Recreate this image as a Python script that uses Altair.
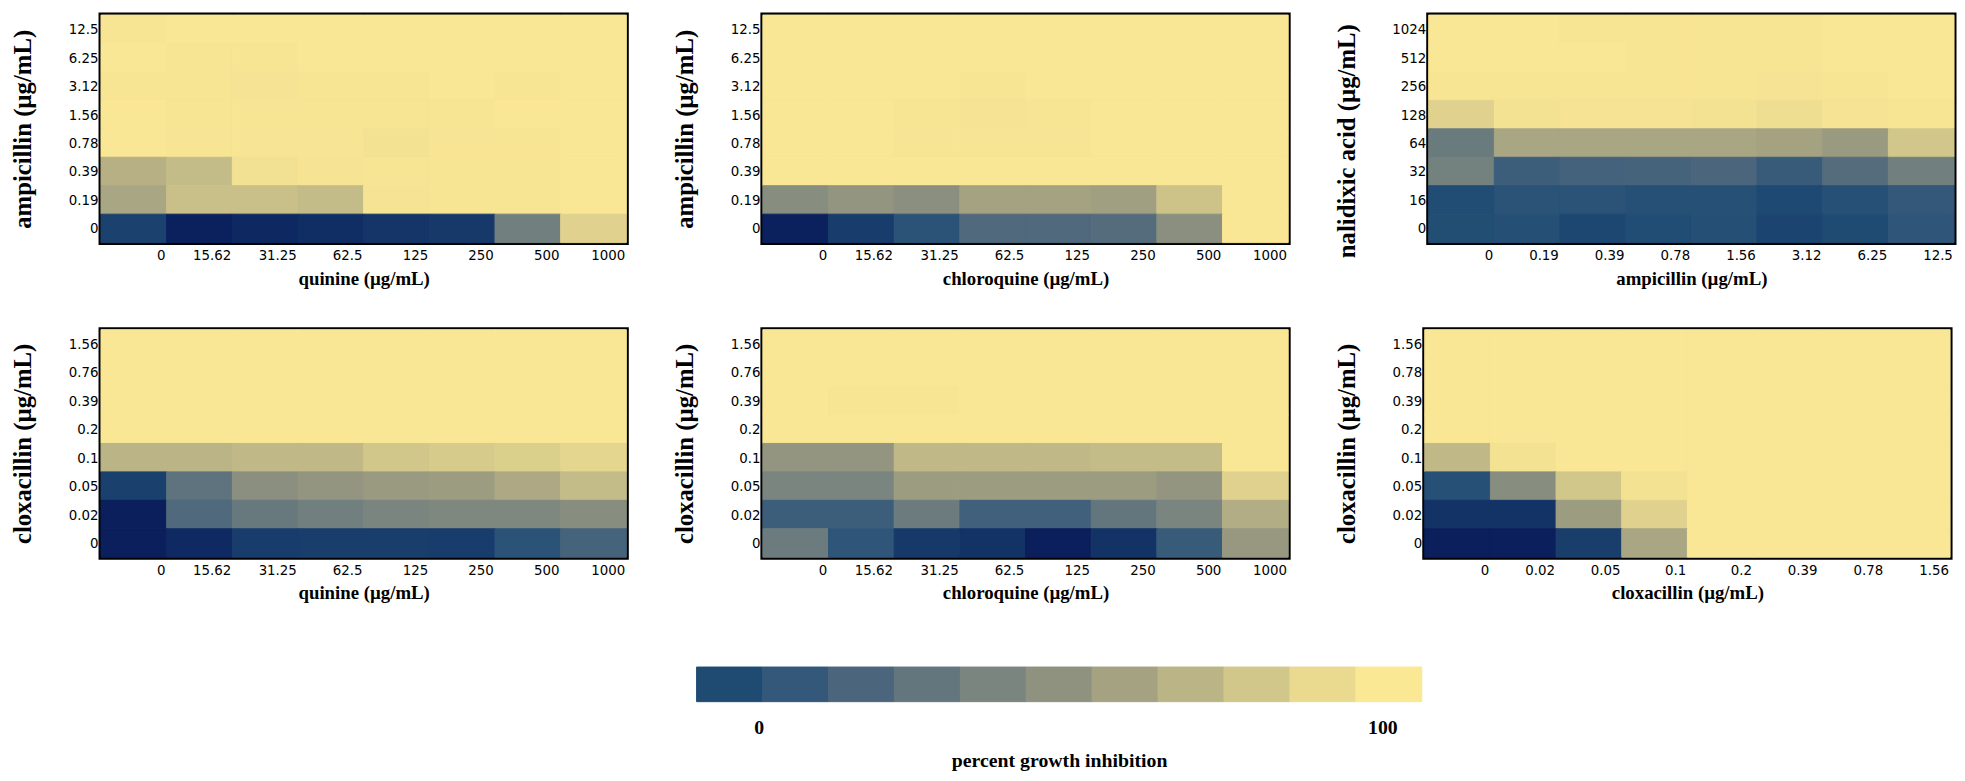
import altair as alt
import pandas as pd

# ---------------- data ----------------
quinine_x = ["0", "15.62", "31.25", "62.5", "125", "250", "500", "1000"]
chloroquine_x = ["0", "15.62", "31.25", "62.5", "125", "250", "500", "1000"]
ampicillin_x = ["0", "0.19", "0.39", "0.78", "1.56", "3.12", "6.25", "12.5"]
cloxacillin_x = ["0", "0.02", "0.05", "0.1", "0.2", "0.39", "0.78", "1.56"]

ampicillin_y = ["12.5", "6.25", "3.12", "1.56", "0.78", "0.39", "0.19", "0"]
nalidixic_y = ["1024", "512", "256", "128", "64", "32", "16", "0"]
cloxacillin_y_a = ["1.56", "0.76", "0.39", "0.2", "0.1", "0.05", "0.02", "0"]
cloxacillin_y_b = ["1.56", "0.78", "0.39", "0.2", "0.1", "0.05", "0.02", "0"]

# percent growth inhibition, rows listed top -> bottom
amp_quinine = [
    [98, 99, 99, 99, 99, 99, 99, 99],
    [99, 98, 98, 99, 99, 99, 99, 99],
    [98, 98, 97, 98, 98, 99, 98, 99],
    [99, 98, 98, 98, 98, 98, 99, 99],
    [99, 98, 98, 98, 96, 98, 98, 99],
    [68, 74, 95, 97, 98, 98, 98, 99],
    [62, 76, 76, 74, 97, 98, 98, 99],
    [-8, -38, -32, -26, -20, -16, 36, 86],
]
amp_chloroquine = [
    [99, 99, 99, 99, 99, 99, 99, 99],
    [99, 99, 99, 99, 99, 99, 99, 99],
    [99, 99, 99, 98, 99, 99, 99, 99],
    [99, 99, 98, 97, 98, 99, 99, 99],
    [99, 99, 98, 98, 98, 99, 99, 99],
    [99, 99, 99, 99, 99, 99, 99, 99],
    [46, 52, 48, 60, 60, 58, 78, 99],
    [-38, -14, 6, 22, 22, 24, 48, 99],
]
nal_ampicillin = [
    [99, 99, 98, 98, 98, 98, 99, 99],
    [99, 99, 99, 98, 98, 98, 99, 99],
    [98, 98, 98, 98, 98, 97, 98, 99],
    [86, 96, 97, 97, 96, 93, 97, 98],
    [33, 62, 62, 62, 62, 60, 55, 80],
    [37, 14, 17, 18, 20, 12, 24, 36],
    [1, 6, 6, 4, 4, -2, 4, 10],
    [2, 3, -4, 1, 3, -6, 0, 8],
]
clox_quinine = [
    [99, 99, 99, 99, 99, 99, 99, 99],
    [99, 99, 99, 99, 99, 99, 99, 99],
    [99, 99, 99, 99, 99, 99, 99, 99],
    [99, 99, 99, 99, 99, 99, 99, 99],
    [70, 70, 72, 72, 80, 82, 84, 88],
    [-10, 28, 48, 52, 55, 56, 64, 74],
    [-40, 22, 32, 36, 40, 42, 42, 46],
    [-40, -30, -14, -12, -12, -14, 6, 18],
]
clox_chloroquine = [
    [99, 99, 99, 99, 99, 99, 99, 99],
    [99, 99, 99, 99, 99, 99, 99, 99],
    [99, 98, 98, 99, 99, 99, 99, 99],
    [99, 99, 99, 99, 99, 99, 99, 99],
    [52, 52, 72, 72, 72, 74, 74, 99],
    [40, 40, 56, 56, 56, 56, 52, 86],
    [14, 14, 34, 16, 16, 30, 40, 66],
    [34, 8, -16, -22, -40, -22, 12, 54],
]
clox_cloxacillin = [
    [99, 99, 99, 99, 99, 99, 99, 99],
    [99, 99, 99, 99, 99, 99, 99, 99],
    [99, 99, 99, 99, 99, 99, 99, 99],
    [99, 99, 99, 99, 99, 99, 99, 99],
    [72, 96, 99, 99, 99, 99, 99, 99],
    [4, 46, 80, 96, 99, 99, 99, 99],
    [-22, -22, 56, 86, 99, 99, 99, 99],
    [-40, -40, -12, 62, 99, 99, 99, 99],
]

legend_bins = [0, 10, 20, 30, 40, 50, 60, 70, 80, 90, 100]

color_domain = [-40, 0, 10, 20, 30, 40, 50, 60, 70, 80, 90, 100]
color_range = ["#0a1f5c", "#1f4b73", "#33587a", "#4b667c", "#63767e", "#7a857f",
               "#8f927f", "#a5a282", "#bbb486", "#d2c78a", "#e9da90", "#fbe895"]

# ---------------- styling ----------------
NARROW = "Liberation Sans Narrow, DejaVu Sans Condensed, Arial Narrow, sans-serif"
SERIF = "Liberation Serif, Times New Roman, serif"
PW, PH = 531, 230

color_scale = alt.Scale(domain=color_domain, range=color_range, interpolate="rgb", clamp=True)


def panel(xs, ys, vals, xtitle, ytitle, ytitle_shift=0):
    recs = []
    for yi, yl in enumerate(ys):
        for xi, xl in enumerate(xs):
            recs.append({"x": xl, "y": yl, "v": vals[yi][xi]})
    df = pd.DataFrame(recs)
    yaxis = dict(labelFont=NARROW, labelFontSize=15, labelPadding=3,
                 labelColor="black", titleColor="black",
                 domain=False, ticks=False,
                 titleFont=SERIF, titleFontSize=25, titleFontWeight="bold",
                 titlePadding=33)
    if ytitle_shift:
        yaxis["titleY"] = PH / 2 + ytitle_shift
    return alt.Chart(df).mark_rect(strokeWidth=1).encode(
        x=alt.X("x:N", sort=xs, title=xtitle,
                axis=alt.Axis(labelAngle=0, labelAlign="right", labelOffset=32,
                              labelFont=NARROW, labelFontSize=15, labelPadding=5,
                              labelColor="black", titleColor="black",
                              labelOverlap=False, domain=False, ticks=False,
                              titleFont=SERIF, titleFontSize=19, titleFontWeight="bold",
                              titlePadding=7)),
        y=alt.Y("y:N", sort=ys, title=ytitle, axis=alt.Axis(**yaxis)),
        color=alt.Color("v:Q", scale=color_scale, legend=None),
        stroke=alt.Color("v:Q", scale=color_scale, legend=None),
    ).properties(width=PW, height=PH,
                 view=alt.ViewBackground(stroke="black", strokeWidth=5))


p1 = panel(quinine_x, ampicillin_y, amp_quinine, "quinine (µg/mL)", "ampicillin (µg/mL)")
p2 = panel(chloroquine_x, ampicillin_y, amp_chloroquine, "chloroquine (µg/mL)", "ampicillin (µg/mL)")
p3 = panel(ampicillin_x, nalidixic_y, nal_ampicillin, "ampicillin (µg/mL)", "nalidixic acid (µg/mL)",
           ytitle_shift=12)
p4 = panel(quinine_x, cloxacillin_y_a, clox_quinine, "quinine (µg/mL)", "cloxacillin (µg/mL)")
p5 = panel(chloroquine_x, cloxacillin_y_a, clox_chloroquine, "chloroquine (µg/mL)", "cloxacillin (µg/mL)")
p6 = panel(cloxacillin_x, cloxacillin_y_b, clox_cloxacillin, "cloxacillin (µg/mL)", "cloxacillin (µg/mL)")

row1 = alt.hconcat(p1, p2, p3, spacing=41).resolve_scale(x="independent", y="independent")
row2 = alt.hconcat(p4, p5, p6, spacing=41).resolve_scale(x="independent", y="independent")

legend_df = pd.DataFrame({"bin": legend_bins})
legend_bar = alt.Chart(legend_df).mark_rect(strokeWidth=1).encode(
    x=alt.X("bin:O", sort=legend_bins, title="percent growth inhibition",
            axis=alt.Axis(labelAngle=0, domain=False, ticks=False,
                          labelExpr="(datum.value == 0 || datum.value == 100) ? datum.label : ''",
                          labelFont=SERIF, labelFontSize=20, labelFontWeight="bold",
                          labelPadding=16, labelColor="black", titleColor="black",
                          labelOffset={"condition": {"test": "datum.value == 0", "value": 30},
                                       "value": -6},
                          titleFont=SERIF, titleFontSize=20, titleFontWeight="bold",
                          titlePadding=14)),
    color=alt.Color("bin:Q", scale=color_scale, legend=None),
    stroke=alt.Color("bin:Q", scale=color_scale, legend=None),
).properties(width=733, height=35, view=alt.ViewBackground(stroke="transparent"))

spacer = alt.Chart(pd.DataFrame({"s": [0]})).mark_point(opacity=0).encode(
    x=alt.value(0), y=alt.value(0)
).properties(width=600, height=35, view=alt.ViewBackground(stroke="transparent"))

legend_row = alt.hconcat(spacer, legend_bar, spacing=0)

chart = alt.vconcat(
    alt.vconcat(row1, row2, spacing=36).resolve_scale(x="independent", y="independent"),
    legend_row,
    spacing=58,
).resolve_scale(x="independent", y="independent").properties(
    padding=0, background="white"
).configure_view(stroke="transparent")

chart.save("out.html", embed_options={"renderer": "svg", "actions": False})
